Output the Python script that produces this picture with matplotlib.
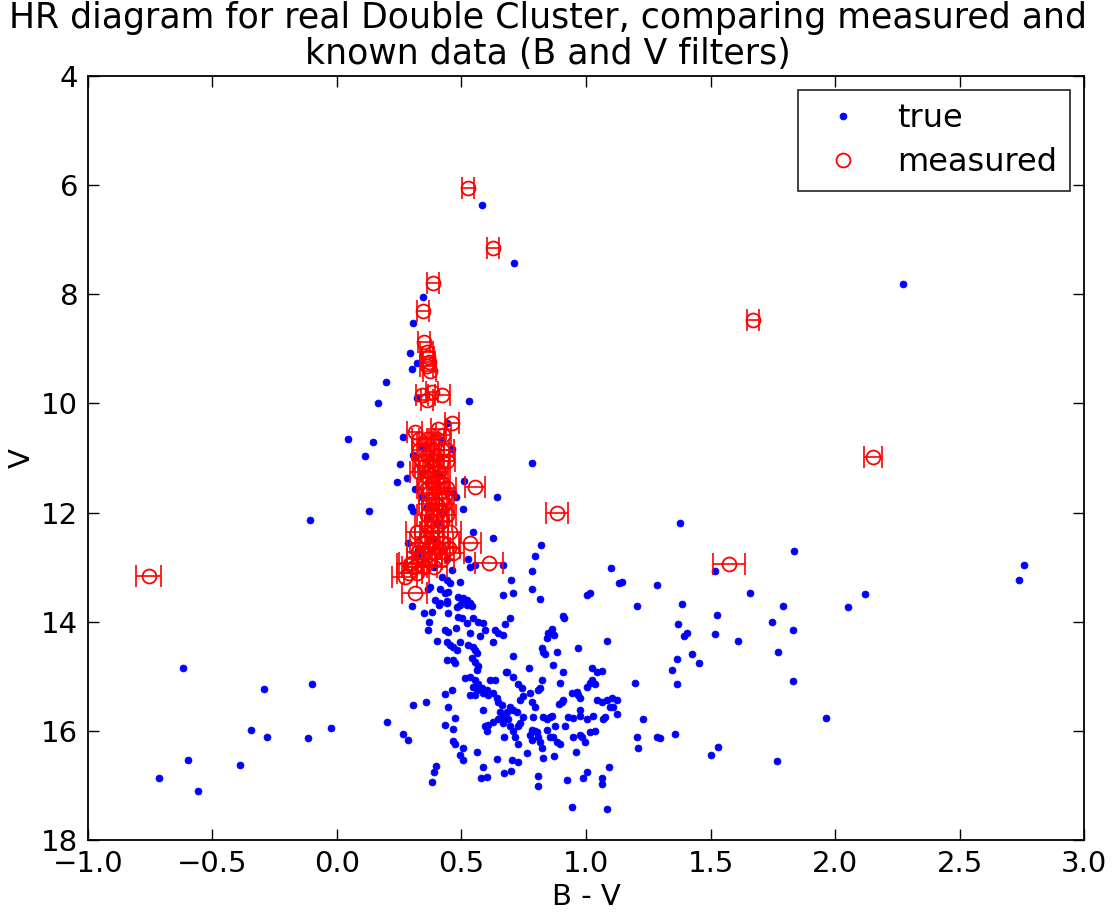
import matplotlib
matplotlib.use('Agg')
import matplotlib.pyplot as plt

# catalogue ("true") values
true_bv = [0.582, 0.711, 0.345, 0.305, 0.293, 0.32, 0.30, 0.197, 0.165, 0.530, 0.321, 0.44, 0.265, 0.42, 0.462, 0.783, 2.273,
           0.045, 0.145, 0.112, 0.128, -0.108,
           0.253, 0.241, 0.281, 0.51, 0.642, 0.297, 0.305, 0.506, 0.546, 0.627, 0.285, 0.819, 0.795, 0.667, 0.783, 0.699, 0.707, 0.667, 0.783, 0.908,
           0.305, 0.313, 0.341, 0.378, 0.410, 0.341, 0.410, 0.438, 0.466, 0.478, 0.341, 0.313,
           0.325, 0.321, 0.526, 0.534, 0.554, 0.422, 0.442, 0.454, 0.494, 0.373, 0.365, 0.414, 0.434, 0.446, 0.486, 0.394, 0.414, 0.442, 0.502, 0.522, 0.534,
           0.36, 0.40, 0.38, 0.42, 0.44, 0.39, 0.46, 0.36, 0.42,
           1.378, 1.835, 1.518, 2.759, 2.739, 1.10, 1.145, 1.133, 1.004, 1.016, 1.205, 1.084, 0.968,
           0.30, 0.349, 0.37, 0.365, 0.40, 0.38, 0.41, 0.44, 0.446, 0.482, 0.494, 0.506, 0.522, 0.542, 0.486, 0.502, 0.434, 0.446, 0.48, 0.522,
           0.546, 0.566, 0.586, 0.594, 0.534, 0.574, 0.635, 0.647, 0.667, 0.627, 0.675, 0.695, 0.815,
           0.44, 0.454, 0.466, 0.482, 0.494, 0.526, 0.546, 0.554, 0.562, 0.44, 0.466, 0.474, 0.542, 0.554, 0.566, 0.562, 0.514,
           0.912, 0.863, 0.847, 0.843, 0.871, 0.823, 0.827, 0.835, 0.884, 0.867, 0.908, 0.896, 0.823, 0.815, 0.807, 0.771, 0.707, 0.679,
           1.024, 1.044, 1.064,
           0.534, 0.554, 0.546, 0.566, 0.562, 0.582, 0.586, 0.602, 0.614, 0.635, 0.606, 0.627, 0.643, 0.647, 0.663, 0.655, 0.667, 0.683, 0.695, 0.707, 0.723,
           0.683, 0.707, 0.727, 0.743, 0.775, 0.747, 0.735, 0.783, 0.795, 0.787,
           0.747, 0.735, 0.727, 0.687, 0.695, 0.667, 0.647, 0.606, 0.602, 0.627, 0.671, 0.707, 0.715, 0.727, 0.763,
           0.783, 0.795, 0.803, 0.775, 0.783, 0.807, 0.815, 0.823, 0.827,
           0.843, 0.855, 0.867, 0.884, 0.896, 0.827, 0.843, 0.855, 0.863, 0.876, 0.916,
           0.928, 0.948, 0.976, 1.004, 1.03,
           0.948, 0.976, 0.984, 0.996, 1.016, 1.036,
           0.96, 0.871, 0.807, 0.807, 0.924, 0.944, 0.988, 1.004, 1.064, 1.064, 1.092, 1.084,
           0.904, 0.892, 0.908, 0.944, 0.964, 0.968, 0.976, 0.976,
           1.004, 1.016, 1.036, 1.024, 1.044, 1.064, 1.084, 1.104, 1.124, 1.108, 1.124, 1.096, 1.076, 1.068,
           1.197, 1.229, 1.205, 1.209,
           1.285, 1.659, 1.386, 1.791, 2.052, 1.526, 1.369, 1.747, 1.831, 1.406, 1.394, 1.518, 1.61, 1.771, 1.426, 1.365, 1.454, 1.345, 1.365,
           1.831, 1.964, 1.297, 1.285, 1.357, 1.53, 1.502, 1.767, 2.12,
           0.20, 0.305, 0.357, 0.265, 0.285, 0.434, 0.462, 0.446, 0.474, 0.434, 0.466, 0.466, 0.474, 0.506, 0.494, 0.506,
           0.562, 0.643, 0.586, 0.578, 0.602, 0.398, 0.39, 0.382, 0.671, 0.699, 0.703, 0.727, 0.586, 0.594, 0.534, 0.554,
           -0.618, -0.293, -0.10, -0.345, -0.281, -0.116, -0.024, -0.598, -0.39, -0.715, -0.558]
true_v = [6.36, 7.42, 8.05, 8.52, 9.07, 9.26, 9.37, 9.60, 9.99, 9.95, 9.90, 10.36, 10.61, 10.67, 10.83, 11.09, 7.81,
          10.66, 10.70, 10.96, 11.97, 12.13,
          11.11, 11.44, 11.36, 11.42, 11.71, 11.89, 11.98, 11.93, 12.35, 12.46, 12.55, 12.59, 12.79, 12.97, 13.08, 13.23, 13.47, 13.52, 13.40, 13.90,
          10.94, 10.98, 10.80, 10.96, 10.98, 11.28, 11.33, 11.60, 11.65, 11.71, 11.71, 11.57,
          12.68, 12.77, 12.86, 12.99, 12.97, 13.19, 13.23, 13.29, 13.27, 13.36, 13.41, 13.41, 13.47, 13.45, 13.54, 13.60, 13.65, 13.63, 13.60, 13.69, 13.65,
          12.10, 12.20, 12.50, 12.70, 12.85, 13.00, 13.05, 11.90, 12.00,
          12.19, 12.70, 13.08, 12.97, 13.23, 13.01, 13.27, 13.29, 13.52, 13.47, 13.71, 14.35, 14.49,
          13.71, 13.84, 14.00, 14.15, 14.35, 13.82, 13.69, 13.65, 13.84, 13.74, 13.69, 13.56, 13.60, 13.71, 13.91, 13.93, 14.15, 14.18, 14.11, 14.02,
          13.93, 14.00, 14.02, 14.15, 14.20, 14.27, 14.15, 14.20, 14.24, 14.38, 14.05, 13.93, 13.58,
          14.38, 14.42, 14.46, 14.51, 14.38, 14.42, 14.46, 14.51, 14.57, 14.70, 14.70, 14.75, 14.66, 14.73, 14.82, 14.88, 15.03,
          13.93, 14.13, 14.20, 14.29, 14.24, 14.48, 14.55, 14.60, 14.55, 14.79, 14.92, 15.12, 15.06, 15.21, 15.25, 14.84, 14.62, 14.92,
          14.84, 14.93, 14.90,
          15.01, 15.06, 15.19, 15.15, 15.25, 15.21, 15.30, 15.25, 15.06, 15.06, 15.34, 15.30, 15.39, 15.47, 15.52, 15.65, 15.74, 15.65, 15.56, 15.61, 15.65,
          14.92, 15.01, 15.15, 15.21, 15.30, 15.37, 15.43, 15.48, 15.57, 15.74,
          15.74, 15.85, 15.92, 15.79, 15.92, 15.85, 15.79, 15.89, 16.01, 15.83, 16.11, 16.01, 16.11, 16.25, 16.40,
          15.98, 16.01, 16.03, 16.07, 16.16, 16.11, 16.20, 16.31, 16.49,
          15.98, 16.11, 16.12, 16.20, 16.25, 15.74, 15.79, 15.74, 15.72, 15.92, 15.92,
          15.74, 15.77, 15.72, 15.78, 15.73,
          16.11, 16.07, 16.12, 16.20, 16.03, 16.01,
          16.38, 16.47, 16.82, 17.02, 16.91, 17.39, 16.86, 16.75, 16.86, 16.97, 16.66, 17.44,
          15.47, 15.50, 15.43, 15.30, 15.28, 15.34, 15.39, 15.61,
          15.19, 15.12, 15.15, 15.06, 15.43, 15.47, 15.43, 15.39, 15.43, 15.57, 15.70, 15.56, 15.74, 15.79,
          15.12, 15.79, 16.11, 16.31,
          13.32, 13.47, 13.67, 13.71, 13.73, 13.87, 14.05, 14.00, 14.15, 14.20, 14.27, 14.22, 14.35, 14.55, 14.59, 14.68, 14.75, 14.88, 15.14,
          15.08, 15.76, 16.14, 16.12, 16.05, 16.29, 16.44, 16.56, 13.49,
          15.83, 15.52, 15.48, 16.05, 16.16, 15.32, 15.26, 15.57, 15.76, 15.89, 15.96, 16.18, 16.25, 16.31, 16.44, 16.53,
          16.38, 16.51, 16.66, 16.86, 16.84, 16.64, 16.75, 16.93, 16.77, 16.73, 16.53, 16.58, 15.61, 15.92, 15.34, 15.34,
          14.84, 15.23, 15.14, 15.98, 16.12, 16.14, 15.94, 16.53, 16.62, 16.86, 17.10]

# measured values with B-V uncertainty
meas_bv = [0.526, 0.627, 0.386, 0.345, 1.671, 0.349, 0.36, 0.365, 0.37, 0.36, 0.372, 0.341, 0.381, 0.422, 0.361,
           0.462, 0.313, 0.406, 0.426, 2.153, 0.554, 0.884, 0.534, 0.61, 1.574, -0.755, 0.293, 0.273, 0.313, 0.325, 0.30,
           0.33, 0.36, 0.40, 0.35, 0.38, 0.33, 0.42, 0.44, 0.36, 0.40, 0.34, 0.38, 0.42, 0.44, 0.35, 0.39,
           0.33, 0.37, 0.41, 0.36, 0.40, 0.38, 0.42, 0.36, 0.40, 0.44, 0.37, 0.41, 0.38, 0.42, 0.37, 0.40, 0.43,
           0.38, 0.41, 0.36, 0.40, 0.44, 0.38, 0.42, 0.36, 0.40, 0.321, 0.38, 0.454, 0.36, 0.40, 0.34, 0.38, 0.42,
           0.37, 0.41, 0.45, 0.35, 0.39, 0.466, 0.33, 0.37, 0.42, 0.31, 0.35, 0.39, 0.29, 0.32]
meas_v = [6.05, 7.15, 7.79, 8.30, 8.47, 8.87, 9.05, 9.15, 9.24, 9.32, 9.40, 9.84, 9.79, 9.84, 9.93,
          10.36, 10.52, 10.47, 10.58, 10.98, 11.53, 12.00, 12.55, 12.92, 12.94, 13.16, 12.94, 13.18, 13.47, 12.72, 12.92,
          10.65, 10.65, 10.65, 10.75, 10.75, 10.85, 10.85, 10.85, 10.95, 10.95, 11.05, 11.05, 11.05, 11.05, 11.15, 11.15,
          11.25, 11.25, 11.25, 11.35, 11.35, 11.45, 11.45, 11.55, 11.55, 11.55, 11.65, 11.65, 11.75, 11.75, 11.85, 11.85, 11.85,
          11.95, 11.95, 12.05, 12.05, 12.05, 12.15, 12.15, 12.25, 12.25, 12.35, 12.35, 12.35, 12.45, 12.45, 12.55, 12.55, 12.55,
          12.65, 12.65, 12.65, 12.75, 12.75, 12.75, 12.85, 12.85, 12.85, 13.00, 13.00, 13.00, 13.10, 13.10]
meas_err = [0.025, 0.025, 0.025, 0.025, 0.025, 0.025, 0.025, 0.025, 0.025, 0.025, 0.025, 0.025, 0.025, 0.03, 0.025,
            0.03, 0.03, 0.03, 0.03, 0.035, 0.04, 0.045, 0.045, 0.055, 0.065, 0.05, 0.05, 0.05, 0.05, 0.045, 0.05,
            0.03, 0.03, 0.03, 0.03, 0.03, 0.03, 0.03, 0.03, 0.03, 0.03, 0.035, 0.035, 0.035, 0.035, 0.035, 0.035,
            0.035, 0.035, 0.035, 0.035, 0.035, 0.035, 0.035, 0.04, 0.04, 0.04, 0.04, 0.04, 0.04, 0.04, 0.04, 0.04, 0.04,
            0.04, 0.04, 0.04, 0.04, 0.04, 0.04, 0.04, 0.045, 0.045, 0.045, 0.045, 0.045, 0.045, 0.045, 0.045, 0.045, 0.045,
            0.045, 0.045, 0.045, 0.045, 0.045, 0.045, 0.05, 0.05, 0.05, 0.05, 0.05, 0.05, 0.05, 0.05]

title_lines = ['HR diagram for real Double Cluster, comparing measured and', 'known data (B and V filters)']

fs = 21

fig = plt.figure(figsize=(11.13, 9.15), dpi=100)
ax = fig.add_axes([0.079, 0.082, 0.895, 0.835])

ax.plot(true_bv, true_v, 'o', color='b', mec='b', ms=5, mew=0.5, label='true')
ax.errorbar(meas_bv, meas_v, xerr=meas_err, fmt='none', ecolor='r', elinewidth=1.2, capsize=8, capthick=1.2)
ax.plot(meas_bv, meas_v, 'o', mfc='none', mec='r', ms=10, mew=1.3, label='measured')

ax.set_xlim(-1.0, 3.0)
ax.set_ylim(18, 4)
ax.set_xticks([-1.0, -0.5, 0.0, 0.5, 1.0, 1.5, 2.0, 2.5, 3.0])
ax.set_yticks([4, 6, 8, 10, 12, 14, 16, 18])
ax.tick_params(direction='in', top=True, right=True, length=8, width=1, labelsize=fs, pad=7)
for s in ax.spines.values():
    s.set_linewidth(1.3)

ax.set_xlabel('B - V', fontsize=fs)
ax.set_ylabel('V', fontsize=fs)

# two-line title, centred on the figure
fig.text(0.4925, 0.9694, title_lines[0], fontsize=25, ha='center', va='baseline')
fig.text(0.4925, 0.9300, title_lines[1], fontsize=25, ha='center', va='baseline')

leg = ax.legend(loc='upper right', numpoints=1, fontsize=23, fancybox=False, borderaxespad=0.45,
                handlelength=2.0, handletextpad=0.7, borderpad=0.4, labelspacing=0.4)
leg.get_frame().set_edgecolor('k')
leg.get_frame().set_linewidth(1.3)

fig.savefig('out.png', dpi=100)
